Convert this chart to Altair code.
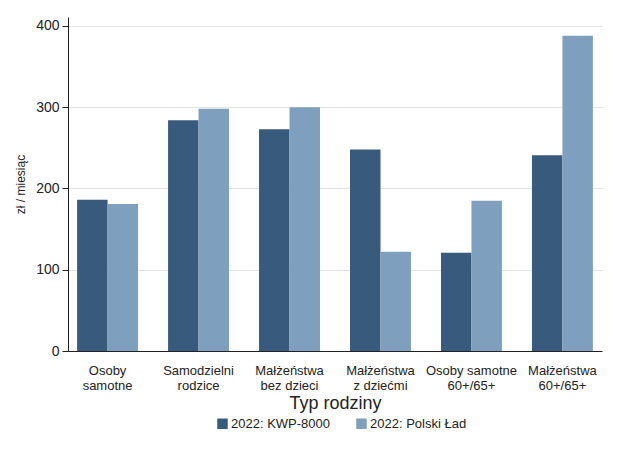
import altair as alt
import pandas as pd

categories = ["Osoby\nsamotne", "Samodzielni\nrodzice", "Małżeństwa\nbez dzieci",
              "Małżeństwa\nz dziećmi", "Osoby samotne\n60+/65+", "Małżeństwa\n60+/65+"]
series = ["2022: KWP-8000", "2022: Polski Ład"]
kwp = [186, 284, 273, 248, 121, 241]
polski_lad = [181, 298, 300, 122, 185, 388]
colors = ["#375a7d", "#7f9fbf"]

rows = []
for c, a, b in zip(categories, kwp, polski_lad):
    rows.append({"cat": c, "series": series[0], "value": a})
    rows.append({"cat": c, "series": series[1], "value": b})
df = pd.DataFrame(rows)

font = "Liberation Sans"

chart = alt.Chart(df).mark_bar().encode(
    x=alt.X("cat:N", sort=categories, title="Typ rodziny",
            scale=alt.Scale(paddingInner=0.33, paddingOuter=0.1),
            axis=alt.Axis(labelExpr="split(datum.label, '\\n')", labelAngle=0,
                          ticks=False, labelPadding=13, labelFontSize=13,
                          labelColor="#222", titleFontSize=18, titleFontWeight="normal",
                          titleColor="#222", titlePadding=2, domainColor="#222",
                          labelLineHeight=15, grid=False)),
    xOffset=alt.XOffset("series:N", sort=series),
    y=alt.Y("value:Q", title="zł / miesiąc",
            scale=alt.Scale(domain=[0, 411], nice=False),
            axis=alt.Axis(values=[0, 100, 200, 300, 400], labelFontSize=14,
                          labelColor="#222", titleFontSize=12, titleFontWeight="normal",
                          titleColor="#222", titlePadding=8, domainColor="#222",
                          tickColor="#222", tickSize=6, gridColor="#e3e3e3",
                          labelPadding=3)),
    color=alt.Color("series:N", sort=series,
                    scale=alt.Scale(domain=series, range=colors),
                    legend=alt.Legend(title=None, orient="none", direction="horizontal",
                                      legendX=148, legendY=400, symbolType="square",
                                      symbolSize=110, symbolStrokeWidth=0,
                                      labelFontSize=13, labelColor="#222",
                                      labelOffset=2, columnPadding=24)),
).properties(
    width=534, height=334,
    autosize=alt.AutoSizeParams(type="none"),
    padding={"left": 60, "top": 9, "right": 10, "bottom": 90},
).configure(font=font).configure_view(stroke=None)

chart.save("out.html", embed_options={"renderer": "svg", "actions": False})
